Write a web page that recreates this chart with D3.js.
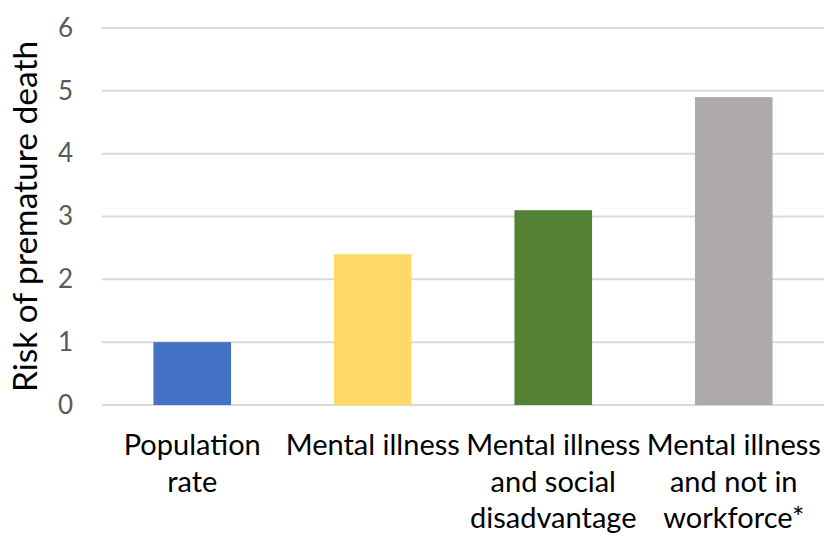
<!DOCTYPE html>
<html>
<head>
<meta charset="utf-8">
<script src="https://cdn.jsdelivr.net/npm/d3@7"></script>
<style>
  body { margin: 0; background: #fff; }
  text { font-family: Lato, "Open Sans", sans-serif; }
</style>
</head>
<body>
<svg id="chart"></svg>
<script>
var categories = ["Population rate", "Mental illness", "Mental illness and social disadvantage", "Mental illness and not in workforce*"];
var values = [1.0, 2.4, 3.1, 4.9];
var colors = ["#4472C4", "#FFD966", "#548235", "#AEAAAA"];
var yTicks = [0, 1, 2, 3, 4, 5, 6];

var width = 824, height = 536;
var margin = { top: 28, right: 0, bottom: 131, left: 102 };

var svg = d3.select("#chart")
  .attr("width", width)
  .attr("height", height);

var xScale = d3.scaleBand()
  .domain(categories)
  .range([margin.left, width - margin.right])
  .paddingInner(0.57)
  .paddingOuter(0.285);

var yScale = d3.scaleLinear()
  .domain([0, 6])
  .range([height - margin.bottom, margin.top]);

// gridlines
svg.append("g")
  .selectAll("line")
  .data(yTicks)
  .enter().append("line")
  .attr("x1", margin.left)
  .attr("x2", width - margin.right)
  .attr("y1", d => yScale(d))
  .attr("y2", d => yScale(d))
  .attr("stroke", "#d9d9d9")
  .attr("stroke-width", 2);

// bars
svg.append("g")
  .selectAll("rect")
  .data(values)
  .enter().append("rect")
  .attr("x", (d, i) => xScale(categories[i]))
  .attr("y", d => yScale(d))
  .attr("width", xScale.bandwidth())
  .attr("height", d => yScale(0) - yScale(d))
  .attr("fill", (d, i) => colors[i]);

// y axis labels
var yAxis = d3.axisLeft(yScale).tickValues(yTicks).tickFormat(d3.format("d")).tickSize(0).tickPadding(0);
var gy = svg.append("g")
  .attr("transform", `translate(${margin.left - 29}, 0)`)
  .call(yAxis);
gy.select(".domain").remove();
gy.selectAll("text")
  .style("font-family", "Lato, 'Open Sans', sans-serif")
  .style("font-size", "26px")
  .attr("fill", "#595959");

// x axis labels, wrapped to the band step
var xAxis = d3.axisBottom(xScale).tickSize(0).tickPadding(0);
var gx = svg.append("g")
  .attr("transform", `translate(0, ${height - margin.bottom})`)
  .call(xAxis);
gx.select(".domain").remove();
gx.selectAll("text")
  .style("font-family", "Lato, 'Open Sans', sans-serif")
  .style("font-size", "29px")
  .attr("fill", "#000")
  .attr("dy", null)
  .call(wrap, xScale.step() - 2);

function wrap(texts, maxWidth) {
  texts.each(function () {
    var text = d3.select(this);
    var words = text.text().split(" ");
    var lines = [];
    var line = [];
    text.text(null);
    var tspan = text.append("tspan");
    words.forEach(function (w) {
      line.push(w);
      tspan.text(line.join(" "));
      if (tspan.node().getComputedTextLength() > maxWidth && line.length > 1) {
        line.pop();
        lines.push(line.join(" "));
        line = [w];
      }
    });
    lines.push(line.join(" "));
    text.text(null);
    lines.forEach(function (l, i) {
      text.append("tspan")
        .attr("x", 0)
        .attr("y", 50 + i * 36.5)
        .text(l);
    });
  });
}

// y axis title
svg.append("text")
  .attr("transform", `translate(37, ${yScale(3)}) rotate(-90)`)
  .style("text-anchor", "middle")
  .style("font-size", "33.5px")
  .attr("fill", "#000")
  .text("Risk of premature death");
</script>
</body>
</html>
